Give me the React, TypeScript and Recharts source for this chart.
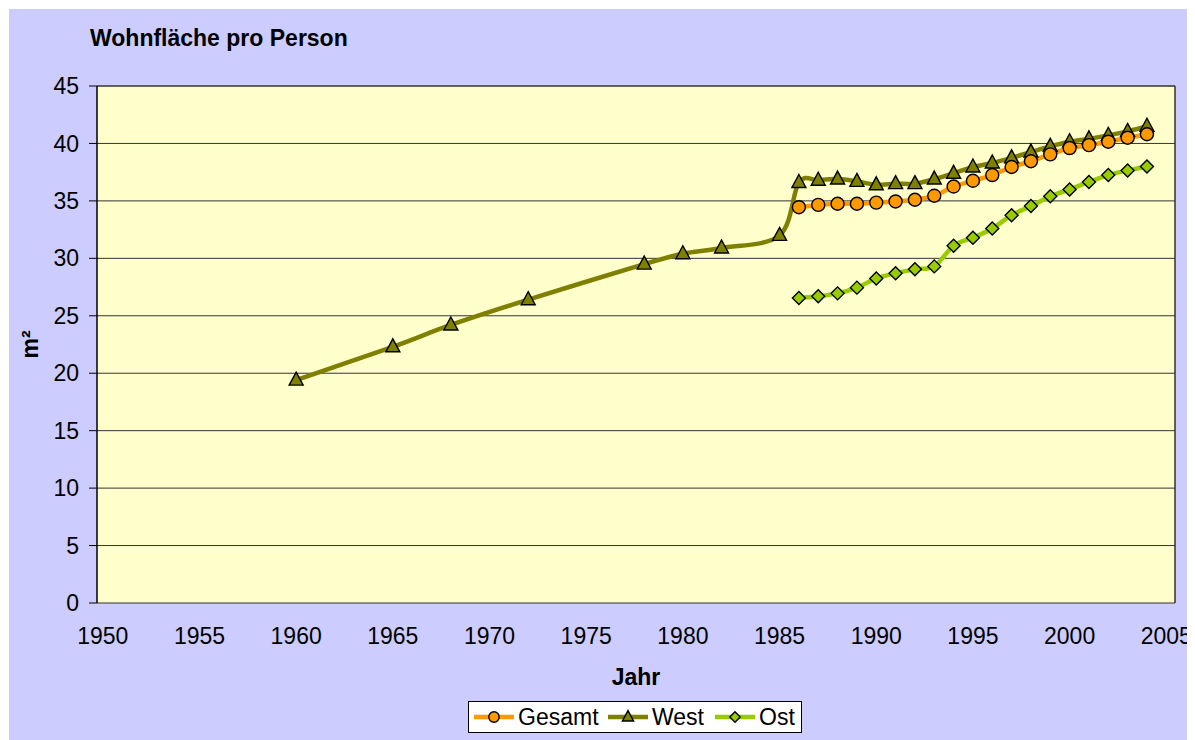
import React from 'react';
import {
  ComposedChart,
  Line,
  XAxis,
  YAxis,
  CartesianGrid,
  ReferenceLine,
} from 'recharts';

// Jahr der Erhebung (1960-1985 nur West)
const years = [
  1960, 1965, 1968, 1972, 1978, 1980, 1982, 1985,
  1986, 1987, 1988, 1989, 1990, 1991, 1992, 1993, 1994, 1995,
  1996, 1997, 1998, 1999, 2000, 2001, 2002, 2003, 2004,
];
const gesamt = [
  null, null, null, null, null, null, null, null,
  34.45, 34.65, 34.75, 34.75, 34.85, 34.95, 35.1, 35.45, 36.25, 36.75,
  37.25, 37.95, 38.45, 39.05, 39.6, 39.85, 40.15, 40.5, 40.8,
];
const west = [
  19.4, 22.3, 24.2, 26.4, 29.5, 30.4, 30.9, 32.0,
  36.6, 36.8, 36.9, 36.7, 36.4, 36.5, 36.5, 36.9, 37.4, 37.95,
  38.3, 38.75, 39.25, 39.75, 40.15, 40.4, 40.7, 41.05, 41.5,
];
const ost = [
  null, null, null, null, null, null, null, null,
  26.55, 26.7, 26.95, 27.45, 28.25, 28.7, 29.05, 29.3, 31.1, 31.8,
  32.6, 33.75, 34.55, 35.4, 36.0, 36.65, 37.25, 37.65, 38.0,
];
const yTicks = [0, 5, 10, 15, 20, 25, 30, 35, 40, 45];
const xLabels = [1950, 1955, 1960, 1965, 1970, 1975, 1980, 1985, 1990, 1995, 2000, 2005];
const xMinor = Array.from({ length: 56 }, (_, i) => 1950 + i);

const data = years.map((jahr, i) => ({ jahr, gesamt: gesamt[i], west: west[i], ost: ost[i] }));

const FONT = '"Liberation Sans", Arial, sans-serif';
const FS = 23;
const COLORS = { gesamt: '#FF9900', west: '#808000', ost: '#99CC00' };

// Excel-like smoothed line (Catmull-Rom as cubic bezier)
const excelCurve = (context: any) => {
  let pts: [number, number][] = [];
  return {
    areaStart() {},
    areaEnd() {},
    lineStart() {
      pts = [];
    },
    lineEnd() {
      if (!pts.length) return;
      context.moveTo(pts[0][0], pts[0][1]);
      for (let i = 0; i < pts.length - 1; i++) {
        const p0 = pts[i - 1] || pts[i];
        const p1 = pts[i];
        const p2 = pts[i + 1];
        const p3 = pts[i + 2] || p2;
        context.bezierCurveTo(
          p1[0] + (p2[0] - p0[0]) / 6,
          p1[1] + (p2[1] - p0[1]) / 6,
          p2[0] - (p3[0] - p1[0]) / 6,
          p2[1] - (p3[1] - p1[1]) / 6,
          p2[0],
          p2[1]
        );
      }
    },
    point(x: number, y: number) {
      pts.push([x, y]);
    },
  };
};

const Marker = ({ kind, cx, cy, s = 1 }: { kind: string; cx: number; cy: number; s?: number }) => {
  if (kind === 'circle') {
    return <circle cx={cx} cy={cy} r={6.5 * s} fill={COLORS.gesamt} stroke="#000" strokeWidth={1.4} />;
  }
  if (kind === 'triangle') {
    return (
      <path
        d={`M${cx},${cy - 8 * s} L${cx + 7 * s},${cy + 5 * s} L${cx - 7 * s},${cy + 5 * s} Z`}
        fill={COLORS.west}
        stroke="#000"
        strokeWidth={1.4}
      />
    );
  }
  return (
    <path
      d={`M${cx},${cy - 6.5 * s} L${cx + 6.5 * s},${cy} L${cx},${cy + 6.5 * s} L${cx - 6.5 * s},${cy} Z`}
      fill={COLORS.ost}
      stroke="#000"
      strokeWidth={1.4}
    />
  );
};

const makeDot = (kind: string) => (props: any) => {
  const { cx, cy, index, value } = props;
  if (value == null || cy == null || isNaN(cy)) return <g key={`${kind}-${index}`} />;
  return (
    <g key={`${kind}-${index}`}>
      <Marker kind={kind} cx={cx} cy={cy} />
    </g>
  );
};

const legendItems = [
  { label: 'Gesamt', kind: 'circle', color: COLORS.gesamt, left: 4 },
  { label: 'West', kind: 'triangle', color: COLORS.west, left: 138 },
  { label: 'Ost', kind: 'diamond', color: COLORS.ost, left: 245 },
];

const App = () => {
  return (
    <div
      style={{
        position: 'relative',
        width: 1186,
        height: 731,
        marginTop: 1,
        marginLeft: 1,
        background: '#CCCCFF',
        fontFamily: FONT,
      }}
    >
      <div
        style={{
          position: 'absolute',
          left: 81,
          top: 16,
          fontSize: FS,
          fontWeight: 'bold',
          color: '#000',
          zIndex: 2,
        }}
      >
        Wohnfläche pro Person
      </div>

      <ComposedChart
        width={1186}
        height={731}
        data={data}
        margin={{ top: 77, right: 20, bottom: 107, left: 0 }}
      >
        <CartesianGrid
          horizontal={true}
          vertical={false}
          fill="#FFFFCC"
          fillOpacity={1}
          stroke="#333333"
          strokeWidth={1}
        />
        {/* tick marks: one per year across the full axis */}
        <XAxis
          xAxisId="t"
          dataKey="jahr"
          type="number"
          domain={[1950, 2005]}
          ticks={xMinor}
          interval={0}
          height={0}
          tick={false}
          tickSize={7}
          tickLine={{ stroke: '#000' }}
          axisLine={{ stroke: '#000', strokeWidth: 1.5 }}
          allowDataOverflow
        />
        {/* data axis with the year labels */}
        <XAxis
          dataKey="jahr"
          type="number"
          domain={[1949.7, 2005.45]}
          ticks={xLabels}
          interval={0}
          height={30}
          tickSize={7}
          tickMargin={18}
          tick={{ fill: '#000', fontSize: FS, fontFamily: FONT }}
          tickLine={false}
          axisLine={false}
          allowDataOverflow
          label={(props: any) => {
            const vb = props.viewBox;
            return (
              <text
                x={vb.x + vb.width / 2}
                y={676}
                textAnchor="middle"
                fontSize={FS}
                fontWeight="bold"
                fontFamily={FONT}
                fill="#000"
              >
                Jahr
              </text>
            );
          }}
        />
        <YAxis
          type="number"
          domain={[0, 45]}
          ticks={yTicks}
          interval={0}
          width={88}
          tickSize={8}
          tickMargin={10}
          tick={{ fill: '#000', fontSize: FS, fontFamily: FONT }}
          tickLine={{ stroke: '#000' }}
          axisLine={{ stroke: '#000', strokeWidth: 1.5 }}
          label={(props: any) => {
            const vb = props.viewBox;
            const cy = vb.y + vb.height / 2;
            return (
              <text
                x={21}
                y={cy}
                transform={`rotate(-90, 21, ${cy})`}
                textAnchor="middle"
                dominantBaseline="central"
                fontSize={FS}
                fontWeight="bold"
                fontFamily={FONT}
                fill="#000"
              >
                m²
              </text>
            );
          }}
        />
        <ReferenceLine xAxisId="t" x={2005} stroke="#333333" strokeWidth={1.5} />
        <ReferenceLine y={45} stroke="#333333" strokeWidth={1} />

        <Line
          dataKey="west"
          type={excelCurve as any}
          stroke={COLORS.west}
          strokeWidth={4.5}
          dot={makeDot('triangle')}
          activeDot={false}
          isAnimationActive={false}
        />
        <Line
          dataKey="gesamt"
          type={excelCurve as any}
          stroke={COLORS.gesamt}
          strokeWidth={4.5}
          dot={makeDot('circle')}
          activeDot={false}
          isAnimationActive={false}
        />
        <Line
          dataKey="ost"
          type={excelCurve as any}
          stroke={COLORS.ost}
          strokeWidth={4.5}
          dot={makeDot('diamond')}
          activeDot={false}
          isAnimationActive={false}
        />
      </ComposedChart>

      <div
        style={{
          position: 'absolute',
          left: 459,
          top: 692,
          width: 332,
          height: 30,
          background: '#fff',
          border: '1px solid #000',
        }}
      >
        {legendItems.map((it) => (
          <div
            key={it.label}
            style={{ position: 'absolute', left: it.left, top: 0, height: 30, display: 'flex', alignItems: 'center' }}
          >
            <svg width={42} height={20}>
              <line x1={1} y1={10} x2={41} y2={10} stroke={it.color} strokeWidth={4.5} />
              <Marker kind={it.kind} cx={21} cy={10} s={0.8} />
            </svg>
            <span style={{ fontSize: FS, color: '#000', marginLeft: 3, lineHeight: '30px' }}>{it.label}</span>
          </div>
        ))}
      </div>
    </div>
  );
};

export default App;
